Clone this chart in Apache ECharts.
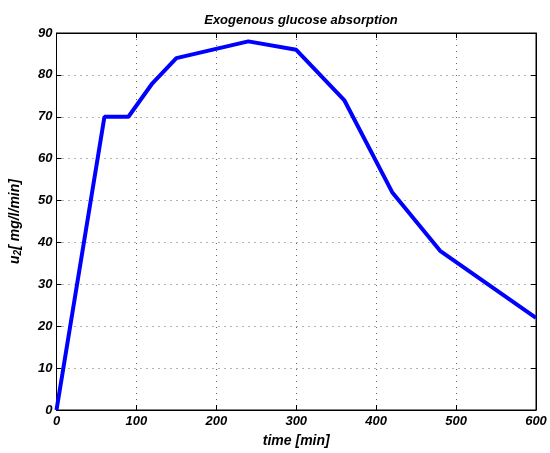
<!DOCTYPE html>
<html><head><meta charset="utf-8">
<script src="https://cdn.jsdelivr.net/npm/echarts@6/dist/echarts.min.js"></script>
<style>html,body{margin:0;padding:0;background:#fff}#c{width:550px;height:453px}</style>
</head><body><div id="c"></div>
<script>
const timeMin = [0, 60, 90, 120, 150, 240, 300, 360, 420, 480, 600];
const u2 = [0, 70, 70, 78, 84, 88, 86, 74, 52, 38, 22];
const xTicks = [0, 100, 200, 300, 400, 500, 600];
const yTicks = [0, 10, 20, 30, 40, 50, 60, 70, 80, 90];

const font = 'Liberation Sans, Arial, Helvetica, sans-serif';
const chart = echarts.init(document.getElementById('c'));
const lab = {fontFamily: font, fontWeight: 'bold', fontStyle: 'italic', fontSize: 13, color: '#000'};
const nameLab = Object.assign({}, lab, {fontSize: 14});
const axisCommon = {
  axisLine: {show: true, onZero: false, lineStyle: {color: '#000', width: 1}},
  axisTick: {show: true, inside: true, length: 5, lineStyle: {color: '#000'}},
  splitLine: {show: true, lineStyle: {color: '#666', type: [1, 5], width: 1}}
};
const pts = timeMin.map((t, i) => [t, u2[i]]);
chart.setOption({
  animation: false,
  title: {text: 'Exogenous glucose absorption', left: 296, top: 9, textAlign: 'center',
    textStyle: {fontFamily: font, fontWeight: 'bold', fontStyle: 'italic', fontSize: 13, color: '#000'}},
  grid: {left: 56, right: 14, top: 33, bottom: 42, show: true, borderColor: '#000', borderWidth: 1, backgroundColor: 'transparent'},
  xAxis: [{
    type: 'value', min: 0, max: 600, interval: 100,
    name: 'time [min]', nameLocation: 'middle', nameGap: 24,
    nameTextStyle: nameLab,
    axisLabel: Object.assign({margin: 5, showMaxLabel: true}, lab),
    ...axisCommon
  }, {
    type: 'value', min: 0, max: 600, interval: 100, position: 'top',
    axisLabel: {show: false}, splitLine: {show: false},
    axisLine: {show: true, onZero: false, lineStyle: {color: '#000'}},
    axisTick: {show: true, inside: true, length: 5, lineStyle: {color: '#000'}}
  }],
  yAxis: [{
    type: 'value', min: 0, max: 90, interval: 10,
    name: '{u|u}{s|2}{u|[ mg/l/min]}', nameLocation: 'middle', nameGap: 33,
    nameTextStyle: {rich: {
      u: Object.assign({}, nameLab),
      s: Object.assign({}, nameLab, {fontSize: 10, verticalAlign: 'bottom', padding: [7, 0, 0, 0]})
    }},
    axisLabel: Object.assign({margin: 4}, lab),
    ...axisCommon
  }, {
    type: 'value', min: 0, max: 90, interval: 10, position: 'right',
    axisLabel: {show: false}, splitLine: {show: false},
    axisLine: {show: true, onZero: false, lineStyle: {color: '#000'}},
    axisTick: {show: true, inside: true, length: 5, lineStyle: {color: '#000'}}
  }],
  series: [{
    type: 'line', data: pts,
    showSymbol: false, lineStyle: {color: '#0000ff', width: 4}, clip: true, z: 5
  }, {
    type: 'line', data: pts, xAxisIndex: 1, yAxisIndex: 1,
    showSymbol: false, lineStyle: {opacity: 0}, silent: true, z: 1
  }]
});
</script></body></html>
